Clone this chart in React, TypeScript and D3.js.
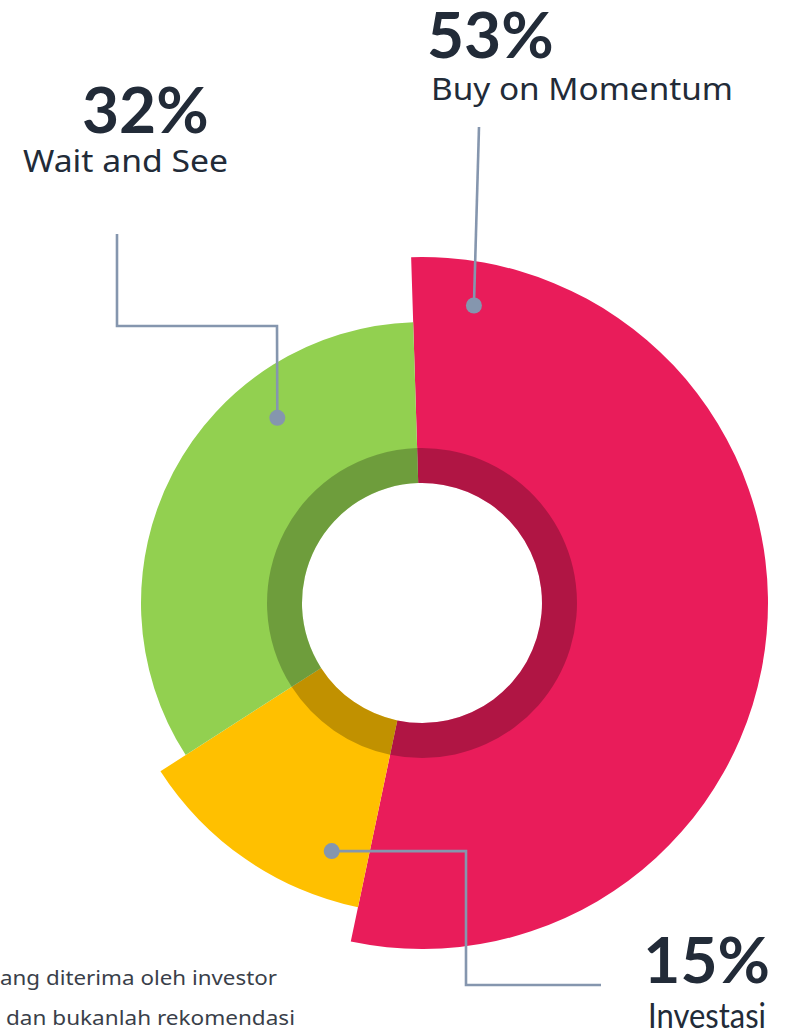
import React from "react";
import * as d3 from "d3";

// ---- data ----
const categories = ["Buy on Momentum", "Investasi", "Wait and See"];
const percentLabels = ["53%", "15%", "32%"];
// slice sizes (sweep of each sector)
const sliceValues = [53.8, 12.6, 33.6];
// relative outer extent of each sector (as drawn)
const outerExtent = [346, 311, 281];
const colors = ["#E91C5A", "#FFC000", "#92D050"];
const footnoteLines = ["ang diterima oleh investor", "dan bukanlah rekomendasi"];

// ---- layout ----
const W = 787;
const H = 1031;
const CX = 422;
const CY = 603;
const INNER = 120;
const RING = 155;
const START = (-1.8 * Math.PI) / 180;
const LINE = "#8596AE";
const TEXT = "#222B38";

type Ann = {
  dotAngle: number; // degrees clockwise from top
  dotR: number;
  path: [number, number][]; // leader polyline after dot
  pct: { x: number; y: number; anchor: string };
  cat: { x: number; y: number; anchor: string; len: number; font: string; size: number };
};

const annotations: Ann[] = [
  {
    dotAngle: 9.9,
    dotR: 302,
    path: [[479, 127]],
    pct: { x: 427, y: 58, anchor: "start" },
    cat: { x: 431, y: 100, anchor: "start", len: 302, font: "'Noto Sans', sans-serif", size: 30.5 },
  },
  {
    dotAngle: 200,
    dotR: 264,
    path: [[466, 851], [466, 985], [601, 985]],
    pct: { x: 770, y: 983, anchor: "end" },
    cat: { x: 766, y: 1028, anchor: "end", len: 118, font: "Lato, sans-serif", size: 34 },
  },
  {
    dotAngle: 322,
    dotR: 235,
    path: [[277, 326], [117, 326], [117, 234]],
    pct: { x: 82, y: 133, anchor: "start" },
    cat: { x: 23, y: 172, anchor: "start", len: 205, font: "'Noto Sans', sans-serif", size: 30.5 },
  },
];

export default function App() {
  const pie = d3
    .pie<number>()
    .sort(null)
    .startAngle(START)
    .endAngle(START + 2 * Math.PI)
    .value((d) => d);
  const arcs = pie(sliceValues);

  const outerArc = d3.arc<d3.PieArcDatum<number>>().innerRadius(INNER);
  const ringArc = d3
    .arc<d3.PieArcDatum<number>>()
    .innerRadius(INNER)
    .outerRadius(RING);

  return (
    <svg
      width={W}
      height={H}
      style={{ position: "absolute", left: 0, top: 0, background: "#fff" }}
    >
      <g transform={`translate(${CX},${CY})`}>
        {arcs.map((a, i) => (
          <path
            key={"s" + i}
            d={outerArc.outerRadius(outerExtent[i])(a) || ""}
            fill={colors[i]}
          />
        ))}
        {arcs.map((a, i) => (
          <path key={"r" + i} d={ringArc(a) || ""} fill="#000" fillOpacity={0.245} />
        ))}
      </g>

      {annotations.map((an, i) => {
        const t = (an.dotAngle * Math.PI) / 180;
        const dx = CX + an.dotR * Math.sin(t);
        const dy = CY - an.dotR * Math.cos(t);
        const pts: [number, number][] = [[dx, dy], ...an.path];
        const line = d3.line()(pts) || "";
        return (
          <g key={"a" + i}>
            <path d={line} fill="none" stroke={LINE} strokeWidth={2.6} />
            <circle cx={dx} cy={dy} r={8} fill={LINE} />
            <text
              x={an.pct.x}
              y={an.pct.y}
              textAnchor={an.pct.anchor}
              fontFamily="Lato, sans-serif"
              fontWeight={700}
              fontSize={64}
              fill={TEXT}
            >
              {percentLabels[i]}
            </text>
            <text
              x={an.cat.x}
              y={an.cat.y}
              textAnchor={an.cat.anchor}
              fontFamily={an.cat.font}
              fontSize={an.cat.size}
              textLength={an.cat.len}
              lengthAdjust="spacingAndGlyphs"
              fill={TEXT}
            >
              {categories[i]}
            </text>
          </g>
        );
      })}

      {footnoteLines.map((s, i) => (
        <text
          key={"f" + i}
          x={i === 0 ? 0 : 6}
          y={985 + i * 40}
          fontFamily="'Noto Sans', sans-serif"
          fontSize={19.5}
          textLength={i === 0 ? 277 : 289}
          lengthAdjust="spacingAndGlyphs"
          fill="#3A3F4A"
        >
          {s}
        </text>
      ))}
    </svg>
  );
}
